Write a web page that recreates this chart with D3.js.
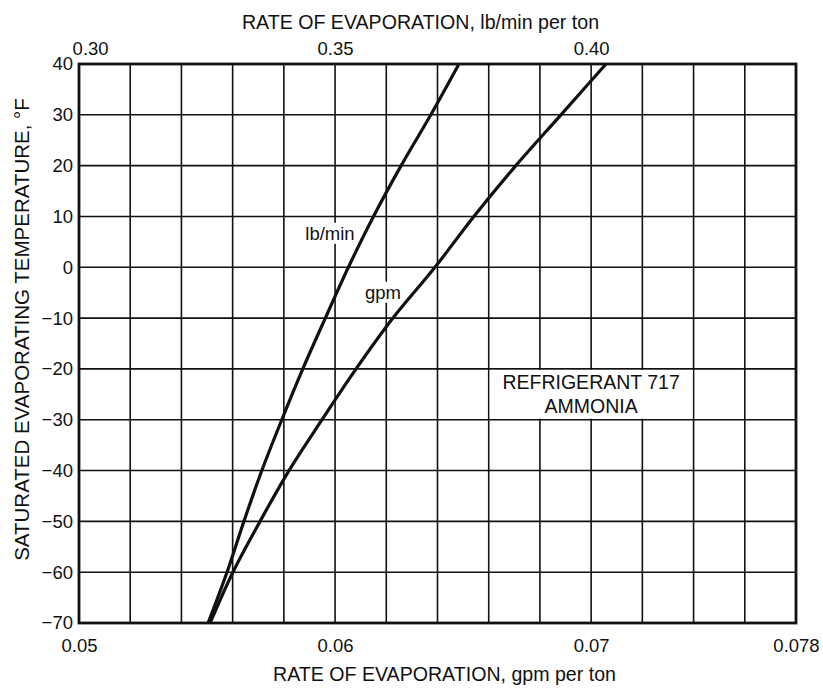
<!DOCTYPE html>
<html>
<head>
<meta charset="utf-8">
<script src="https://cdn.jsdelivr.net/npm/d3@7"></script>
<style>
  body { margin: 0; background: white; }
  text { font-family: "Liberation Sans", Arial, sans-serif; fill: #111; }
</style>
</head>
<body>
<svg id="chart" width="823" height="688"></svg>
<script>
// temperatures read at each grid line, deg F
const temps = [40, 30, 20, 10, 0, -10, -20, -30, -40, -50, -60, -70]
// lb/min per ton (top axis)
const lbMin = [0.3742, 0.3687, 0.3629, 0.3575, 0.3526, 0.3481, 0.3437, 0.3396, 0.3357, 0.3322, 0.3289, 0.3252]
// gpm per ton (bottom axis)
const gpm = [0.07058, 0.06882, 0.06706, 0.06542, 0.06390, 0.06226, 0.06082, 0.05949, 0.05820, 0.05707, 0.05601, 0.05512]

const bottomTicks = [0.05, 0.06, 0.07, 0.078]
const topTicks = [0.30, 0.35, 0.40]
const yTicks = [40, 30, 20, 10, 0, -10, -20, -30, -40, -50, -60, -70]
const gridGpm = d3.range(15).map(i => 0.05 + i * 0.002)

const svg = d3.select("#chart")
const pLeft = 79, pRight = 796, pTop = 64, pBottom = 623

const x = d3.scaleLinear().domain([0.05, 0.078]).range([pLeft, pRight])
const xTop = d3.scaleLinear().domain([0.30, 0.44]).range([pLeft, pRight])
const y = d3.scaleLinear().domain([-70, 40]).range([pBottom, pTop])

const minus = v => (v < 0 ? "\u2212" + Math.abs(v) : "" + v)

// grid
const grid = svg.append("g")
    .attr("stroke", "#111")
    .attr("stroke-width", 1.6)
grid.selectAll("line.v")
    .data(gridGpm)
    .enter()
    .append("line")
    .attr("x1", d => x(d))
    .attr("x2", d => x(d))
    .attr("y1", pTop)
    .attr("y2", pBottom)
grid.selectAll("line.h")
    .data(yTicks)
    .enter()
    .append("line")
    .attr("x1", pLeft)
    .attr("x2", pRight)
    .attr("y1", d => y(d))
    .attr("y2", d => y(d))

// frame
svg.append("rect")
    .attr("x", pLeft)
    .attr("y", pTop)
    .attr("width", pRight - pLeft)
    .attr("height", pBottom - pTop)
    .attr("fill", "none")
    .attr("stroke", "#111")
    .attr("stroke-width", 2.8)

// axes (labels only)
const fs = 18.5
const bAxis = svg.append("g")
    .attr("transform", `translate(0,${pBottom})`)
    .call(d3.axisBottom(x).tickValues(bottomTicks).tickSize(0).tickPadding(16)
        .tickFormat(d => d === 0.078 ? "0.078" : d3.format(".2f")(d)))
const tAxis = svg.append("g")
    .attr("transform", `translate(0,${pTop})`)
    .call(d3.axisTop(xTop).tickValues(topTicks).tickSize(0).tickPadding(9)
        .tickFormat(d3.format(".2f")))
const lAxis = svg.append("g")
    .attr("transform", `translate(${pLeft},0)`)
    .call(d3.axisLeft(y).tickValues(yTicks).tickSize(0).tickPadding(6)
        .tickFormat(minus))
;[bAxis, tAxis, lAxis].forEach(a => {
    a.select(".domain").remove()
    a.selectAll("text")
        .attr("font-size", fs + "px")
        .attr("font-family", "Liberation Sans, Arial, sans-serif")
        .attr("fill", "#111")
})
// 0.30 sits a bit right so it clears the 40
tAxis.selectAll("text").filter(d => d === 0.30).attr("dx", "0.6em")

// titles
svg.append("text")
    .attr("x", (pLeft + pRight) / 2 - 17)
    .attr("y", 29)
    .attr("text-anchor", "middle")
    .attr("font-size", "19.6px")
    .text("RATE OF EVAPORATION, lb/min per ton")
svg.append("text")
    .attr("x", (pLeft + pRight) / 2 + 7)
    .attr("y", 681)
    .attr("text-anchor", "middle")
    .attr("font-size", "19.6px")
    .text("RATE OF EVAPORATION, gpm per ton")
svg.append("text")
    .attr("transform", `translate(29,${(pTop + pBottom) / 2 - 14}) rotate(-90)`)
    .attr("text-anchor", "middle")
    .attr("font-size", "20.5px")
    .text("SATURATED EVAPORATING TEMPERATURE, \u00B0F")

// refrigerant note, blanks its grid cells
svg.append("rect")
    .attr("x", x(0.066) + 1)
    .attr("y", y(-20) + 1)
    .attr("width", x(0.074) - x(0.066) - 2)
    .attr("height", y(-30) - y(-20) - 2)
    .attr("fill", "white")
const note = svg.append("text")
    .attr("text-anchor", "middle")
    .attr("font-size", "19.5px")
note.append("tspan").attr("x", x(0.0700)).attr("y", y(-24)).text("REFRIGERANT 717")
note.append("tspan").attr("x", x(0.0700)).attr("y", y(-28.7)).text("AMMONIA")

// curve labels with white backing
const curveLabels = [
    {text: "lb/min", gx: 0.0598, t: 5.4},
    {text: "gpm", gx: 0.06187, t: -6.2},
]
curveLabels.forEach(d => {
    const t = svg.append("text")
        .attr("x", x(d.gx))
        .attr("y", y(d.t))
        .attr("text-anchor", "middle")
        .attr("font-size", fs + "px")
        .text(d.text)
    const bb = t.node().getBBox()
    svg.insert("rect", () => t.node())
        .attr("x", bb.x - 2)
        .attr("y", bb.y)
        .attr("width", bb.width + 4)
        .attr("height", bb.height)
        .attr("fill", "white")
})

// curves
const lbLine = d3.line()
    .x((d, i) => xTop(lbMin[i]))
    .y(d => y(d))
    .curve(d3.curveMonotoneY)
const gpmLine = d3.line()
    .x((d, i) => x(gpm[i]))
    .y(d => y(d))
    .curve(d3.curveMonotoneY)
svg.append("path")
    .attr("d", lbLine(temps))
    .attr("fill", "none")
    .attr("stroke", "#111")
    .attr("stroke-width", 3.2)
svg.append("path")
    .attr("d", gpmLine(temps))
    .attr("fill", "none")
    .attr("stroke", "#111")
    .attr("stroke-width", 3.2)
</script>
</body>
</html>
